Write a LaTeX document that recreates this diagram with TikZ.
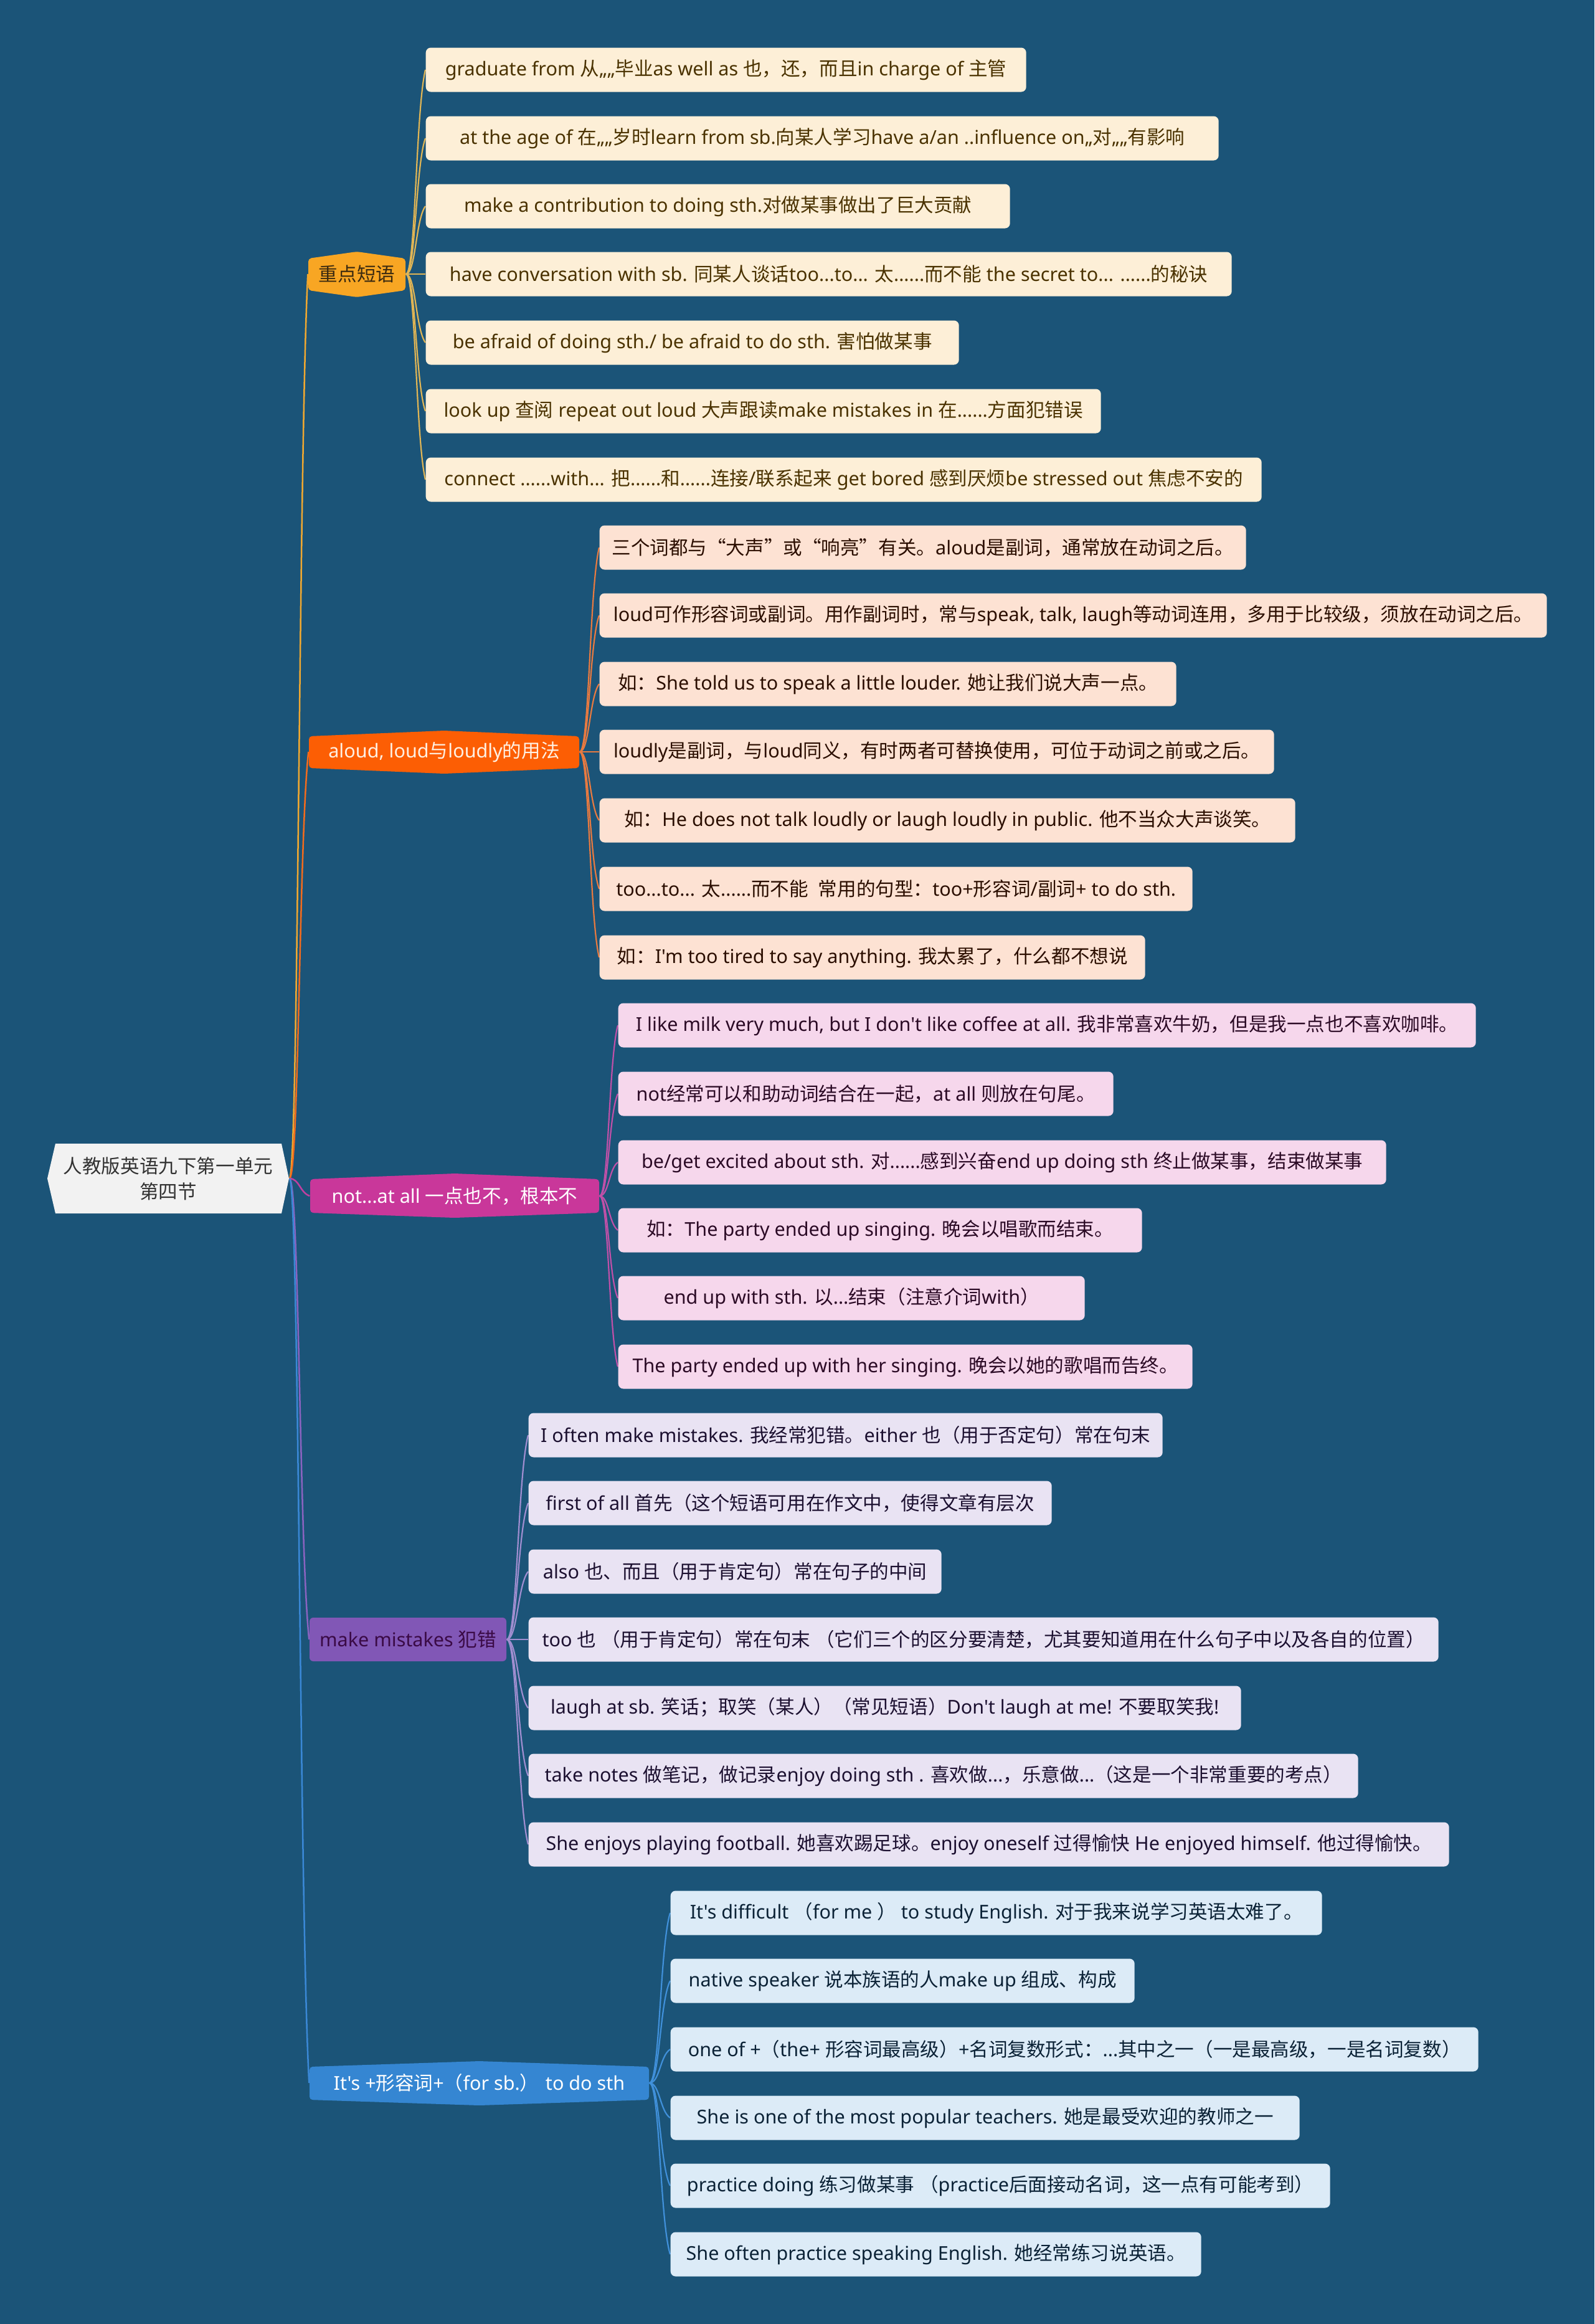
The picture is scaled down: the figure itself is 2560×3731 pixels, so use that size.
\documentclass[tikz,border=0pt]{standalone}
\usepackage{fontspec}
\setmainfont{Noto Sans}
\newfontfamily\latinfont{Noto Sans}
\newfontfamily\cjkfont{Noto Sans CJK SC}
\usetikzlibrary{calc}

\XeTeXinterchartokenstate=1
\newXeTeXintercharclass\CJKcls
\makeatletter
\newcount\my@c
\my@c=0
\loop
  \XeTeXcharclass\my@c=0
  \advance\my@c by 1
\ifnum\my@c<"3000 \repeat
\my@c="3000
\loop
  \XeTeXcharclass\my@c=\CJKcls
  \advance\my@c by 1
\ifnum\my@c<"A000 \repeat
\my@c="FF00
\loop
  \XeTeXcharclass\my@c=\CJKcls
  \advance\my@c by 1
\ifnum\my@c<"FFF0 \repeat
\XeTeXcharclass"201C=\CJKcls
\XeTeXcharclass"201D=\CJKcls
\makeatother
\XeTeXinterchartoks 0 \CJKcls = {\cjkfont}
\XeTeXinterchartoks 4095 \CJKcls = {\cjkfont}
\XeTeXinterchartoks \CJKcls 0 = {\latinfont}
\XeTeXinterchartoks \CJKcls 4095 = {\latinfont}

\definecolor{bgc}{HTML}{1B5478}
\definecolor{rootF}{HTML}{F2F2F2}
\definecolor{rootT}{HTML}{333333}
\definecolor{bfA}{HTML}{F8A623}
\definecolor{btA}{HTML}{3B2A10}
\definecolor{bfB}{HTML}{FC5E04}
\definecolor{btB}{HTML}{FFF0E2}
\definecolor{bfC}{HTML}{C9379A}
\definecolor{btC}{HTML}{FFFFFF}
\definecolor{bfD}{HTML}{8157B6}
\definecolor{btD}{HTML}{3A0A45}
\definecolor{bfE}{HTML}{3586D2}
\definecolor{btE}{HTML}{FFFFFF}
\definecolor{lfA}{HTML}{FDEFD7}
\definecolor{ltA}{HTML}{4A3200}
\definecolor{lfB}{HTML}{FDE2D3}
\definecolor{ltB}{HTML}{2B0E00}
\definecolor{lfC}{HTML}{F6D7EC}
\definecolor{ltC}{HTML}{2B0A25}
\definecolor{lfD}{HTML}{E9E3F3}
\definecolor{ltD}{HTML}{1C1030}
\definecolor{lfE}{HTML}{DCEBF7}
\definecolor{ltE}{HTML}{0B2236}
\definecolor{crA}{HTML}{F0A830}
\definecolor{crB}{HTML}{F26B1D}
\definecolor{crC}{HTML}{C040A0}
\definecolor{crD}{HTML}{8A63C0}
\definecolor{crE}{HTML}{3A88D6}
\definecolor{cgA}{HTML}{E0B555}
\definecolor{cgB}{HTML}{E87A40}
\definecolor{cgC}{HTML}{C050A8}
\definecolor{cgD}{HTML}{A08ED0}
\definecolor{cgE}{HTML}{4090DA}

\newcommand\fsz{\latinfont\fontsize{8.7pt}{11.7pt}\selectfont}
\newcommand\leaf[6]{\node[#1, minimum width={(#4-#3)*0.1mm}] (#2) at (#3,#5) {#6};}
\newcommand\conn[3]{\draw[#1] (#2) let \p1=(#2), \p2=(#3) in .. controls ({0.5*\x1+0.5*\x2},\y1) and ({0.5*\x1+0.5*\x2},{0.8*\y2+0.2*\y1}) .. (#3);}

\pgfdeclarelayer{bglayer}
\pgfdeclarelayer{connlayer}
\pgfdeclarelayer{shapelayer}
\pgfsetlayers{bglayer,connlayer,shapelayer,main}

\begin{document}
\begin{tikzpicture}[x=0.1mm,y=-0.1mm,
  leafbase/.style={rectangle, rounded corners=0.8mm, inner sep=0pt, minimum height=7.1mm, font=\fsz, anchor=west},
  leafA/.style={leafbase, fill=lfA, text=ltA},
  leafB/.style={leafbase, fill=lfB, text=ltB},
  leafC/.style={leafbase, fill=lfC, text=ltC},
  leafD/.style={leafbase, fill=lfD, text=ltD},
  leafE/.style={leafbase, fill=lfE, text=ltE},
  btext/.style={inner sep=0pt, minimum height=5mm, font=\fsz},
  crAs/.style={draw=crA, line width=0.25mm},
  crBs/.style={draw=crB, line width=0.25mm},
  crCs/.style={draw=crC, line width=0.25mm},
  crDs/.style={draw=crD, line width=0.25mm},
  crEs/.style={draw=crE, line width=0.25mm},
  cgAs/.style={draw=cgA, line width=0.22mm},
  cgBs/.style={draw=cgB, line width=0.22mm},
  cgCs/.style={draw=cgC, line width=0.22mm},
  cgDs/.style={draw=cgD, line width=0.22mm},
  cgEs/.style={draw=cgE, line width=0.22mm}]

\begin{pgfonlayer}{bglayer}
\fill[bgc] (0,0) rectangle (2560,3731);
\end{pgfonlayer}
\useasboundingbox (0,0) rectangle (2560,3731);

% root
\begin{pgfonlayer}{shapelayer}
\fill[rootF] (76,1892) -- (89,1836) -- (452,1836) -- (464,1892) -- (452,1948) -- (89,1948) -- cycle;
\fill[bfA, rounded corners=0.5mm] (495,415) -- (573,404) -- (651,415) -- (651,466) -- (573,477) -- (495,466) -- cycle;
\fill[bfB, rounded corners=0.5mm] (496,1182) -- (713,1173) -- (930,1182) -- (930,1233) -- (713,1242) -- (496,1233) -- cycle;
\fill[bfC, rounded corners=0.5mm] (498,1893) -- (730,1884) -- (962,1893) -- (962,1947) -- (730,1955) -- (498,1947) -- cycle;
\fill[bfD, rounded corners=0.6mm] (497,2597) rectangle (813,2667);
\fill[bfE, rounded corners=0.5mm] (497,3318) -- (769.5,3309) -- (1042,3318) -- (1042,3371) -- (769.5,3380) -- (497,3371) -- cycle;
\end{pgfonlayer}

\node[btext, text=rootT, align=center, minimum width=38.8mm] (root) at (270,1892) {人教版英语九下第一单元\\第四节};

\node[btext, text=btA, minimum width=15.6mm] (b1) at (573,440) {重点短语};
\node[btext, text=btB, minimum width=43.4mm] (b2) at (713,1207) {aloud, loud与loudly的用法};
\node[btext, text=btC, minimum width=46.4mm] (b3) at (730,1920) {not...at all 一点也不，根本不};
\node[btext, text=btD, minimum width=31.6mm] (b4) at (655,2632) {make mistakes 犯错};
\node[btext, text=btE, minimum width=54.5mm] (b5) at (769.5,3344) {It's +形容词+（for sb.） to do sth};

% group 1
\leaf{leafA}{l11}{683}{1647}{112}{graduate from 从„„毕业as well as 也，还，而且in charge of 主管}
\leaf{leafA}{l12}{683}{1956}{222}{at the age of 在„„岁时learn from sb.向某人学习have a/an  ..influence on„对„„有影响}
\leaf{leafA}{l13}{683}{1621}{331}{make a contribution to doing sth.对做某事做出了巨大贡献}
\leaf{leafA}{l14}{683}{1977}{440}{have conversation with sb. 同某人谈话too...to... 太......而不能 the secret to... ......的秘诀}
\leaf{leafA}{l15}{683}{1539}{550}{be afraid of doing sth./ be afraid to do sth. 害怕做某事}
\leaf{leafA}{l16}{683}{1767}{660}{look up 查阅 repeat out loud 大声跟读make mistakes in 在......方面犯错误}
\leaf{leafA}{l17}{683}{2025}{770}{connect ......with... 把......和......连接/联系起来 get bored 感到厌烦be stressed out 焦虑不安的}

% group 2
\leaf{leafB}{l21}{962}{2000}{879}{三个词都与“大声”或“响亮”有关。aloud是副词，通常放在动词之后。}
\leaf{leafB}{l22}{962}{2483}{988}{loud可作形容词或副词。用作副词时，常与speak, talk, laugh等动词连用，多用于比较级，须放在动词之后。}
\leaf{leafB}{l23}{962}{1888}{1098}{如：She told us to speak a little louder. 她让我们说大声一点。}
\leaf{leafB}{l24}{962}{2045}{1207}{loudly是副词，与loud同义，有时两者可替换使用，可位于动词之前或之后。}
\leaf{leafB}{l25}{962}{2079}{1317}{如：He does not talk loudly or laugh loudly in public. 他不当众大声谈笑。}
\leaf{leafB}{l26}{962}{1914}{1427}{too...to... 太......而不能 \ 常用的句型：too+形容词/副词+ to do sth.}
\leaf{leafB}{l27}{962}{1838}{1537}{如：I'm too tired to say anything. 我太累了，什么都不想说}

% group 3
\leaf{leafC}{l31}{992}{2369}{1646}{I like milk very much, but I don't like coffee at all. 我非常喜欢牛奶，但是我一点也不喜欢咖啡。}
\leaf{leafC}{l32}{992}{1787}{1756}{not经常可以和助动词结合在一起，at all 则放在句尾。}
\leaf{leafC}{l33}{992}{2225}{1866}{be/get excited about sth. 对......感到兴奋end up doing sth 终止做某事，结束做某事}
\leaf{leafC}{l34}{992}{1833}{1975}{如：The party ended up singing. 晚会以唱歌而结束。}
\leaf{leafC}{l35}{992}{1741}{2084}{end up with sth. 以...结束（注意介词with）}
\leaf{leafC}{l36}{992}{1914}{2194}{The party ended up with her singing. 晚会以她的歌唱而告终。}

% group 4
\leaf{leafD}{l41}{848}{1866}{2304}{I often make mistakes. 我经常犯错。either 也（用于否定句）常在句末}
\leaf{leafD}{l42}{848}{1688}{2413}{first of all 首先（这个短语可用在作文中，使得文章有层次}
\leaf{leafD}{l43}{848}{1511}{2523}{also 也、而且（用于肯定句）常在句子的中间}
\leaf{leafD}{l44}{848}{2309}{2632}{too 也 （用于肯定句）常在句末 （它们三个的区分要清楚，尤其要知道用在什么句子中以及各自的位置）}
\leaf{leafD}{l45}{848}{1992}{2742}{laugh at sb. 笑话；取笑（某人）（常见短语）Don't laugh at me! 不要取笑我!}
\leaf{leafD}{l46}{848}{2180}{2851}{take notes 做笔记，做记录enjoy doing sth . 喜欢做...，乐意做...（这是一个非常重要的考点）}
\leaf{leafD}{l47}{848}{2326}{2961}{She enjoys playing football. 她喜欢踢足球。enjoy oneself 过得愉快 He enjoyed himself. 他过得愉快。}

% group 5
\leaf{leafE}{l51}{1076}{2122}{3071}{It's difficult （for me ） to study English. 对于我来说学习英语太难了。}
\leaf{leafE}{l52}{1076}{1821}{3180}{native speaker 说本族语的人make up 组成、构成}
\leaf{leafE}{l53}{1076}{2373}{3290}{one of +（the+ 形容词最高级）+名词复数形式：...其中之一（一是最高级，一是名词复数）}
\leaf{leafE}{l54}{1076}{2086}{3400}{She is one of the most popular teachers. 她是最受欢迎的教师之一}
\leaf{leafE}{l55}{1076}{2135}{3509}{practice doing 练习做某事 （practice后面接动名词，这一点有可能考到）}
\leaf{leafE}{l56}{1076}{1928}{3619}{She often practice speaking English. 她经常练习说英语。}

\begin{pgfonlayer}{connlayer}
\conn{crAs}{root.east}{b1.west}
\conn{crBs}{root.east}{b2.west}
\conn{crCs}{root.east}{b3.west}
\conn{crDs}{root.east}{b4.west}
\conn{crEs}{root.east}{b5.west}
\foreach \i in {1,...,7} {\conn{cgAs}{b1.east}{l1\i.west}}
\foreach \i in {1,...,7} {\conn{cgBs}{b2.east}{l2\i.west}}
\foreach \i in {1,...,6} {\conn{cgCs}{b3.east}{l3\i.west}}
\foreach \i in {1,...,7} {\conn{cgDs}{b4.east}{l4\i.west}}
\foreach \i in {1,...,6} {\conn{cgEs}{b5.east}{l5\i.west}}
\end{pgfonlayer}
\end{tikzpicture}
\end{document}
